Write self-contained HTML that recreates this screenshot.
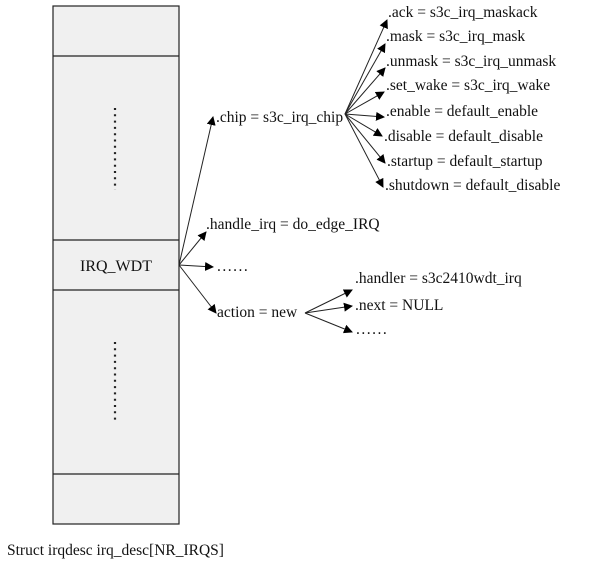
<!DOCTYPE html>
<html><head><style>body{margin:0;background:#fff}</style></head><body>
<svg width="600" height="562" xmlns="http://www.w3.org/2000/svg" font-family="Liberation Serif, serif" font-size="15.5" fill="#111">
<defs><marker id="a" markerWidth="9" markerHeight="9" refX="8" refY="4.5" orient="auto" markerUnits="userSpaceOnUse"><path d="M0,0 L9,4.5 L0,9 z" fill="#000"/></marker></defs>
<rect x="53" y="6" width="126" height="518" fill="#f0f0f0" stroke="#222" stroke-width="1.2"/>
<g stroke="#222" stroke-width="1.2"><line x1="53" y1="56" x2="179" y2="56"/><line x1="53" y1="240" x2="179" y2="240"/><line x1="53" y1="290" x2="179" y2="290"/><line x1="53" y1="474" x2="179" y2="474"/></g>
<line x1="115" y1="108" x2="115" y2="190" stroke="#222" stroke-width="2.2" stroke-dasharray="2,4.3"/>
<line x1="115" y1="342" x2="115" y2="423" stroke="#222" stroke-width="2.2" stroke-dasharray="2,4.3"/>
<text x="116" y="271" text-anchor="middle" font-size="16">IRQ_WDT</text>
<text x="7" y="555" font-size="15.5">Struct irqdesc irq_desc[NR_IRQS]</text>
<g stroke="#222" stroke-width="1" marker-end="url(#a)">
<line x1="179" y1="265" x2="213" y2="117"/><line x1="179" y1="265" x2="206" y2="232"/><line x1="179" y1="265" x2="213" y2="267"/><line x1="179" y1="265" x2="216" y2="313"/>
<line x1="345" y1="114" x2="387" y2="20"/><line x1="345" y1="114" x2="385" y2="44"/><line x1="345" y1="114" x2="385" y2="68"/><line x1="345" y1="114" x2="384" y2="92"/><line x1="345" y1="114" x2="384" y2="117"/><line x1="345" y1="114" x2="382" y2="136"/><line x1="345" y1="114" x2="385" y2="163"/><line x1="345" y1="114" x2="383" y2="187"/>
<line x1="305" y1="313" x2="352" y2="290"/><line x1="305" y1="313" x2="352" y2="306"/><line x1="305" y1="313" x2="352" y2="332"/>
</g>
<text x="216" y="122">.chip = s3c_irq_chip</text>
<text x="206" y="229">.handle_irq = do_edge_IRQ</text>
<text x="217" y="271" letter-spacing="1.5">......</text>
<text x="217" y="317">action = new</text>
<text x="388" y="17">.ack = s3c_irq_maskack</text>
<text x="386" y="41">.mask = s3c_irq_mask</text>
<text x="386" y="66">.unmask = s3c_irq_unmask</text>
<text x="386" y="90">.set_wake = s3c_irq_wake</text>
<text x="386" y="116">.enable = default_enable</text>
<text x="384" y="141">.disable = default_disable</text>
<text x="387" y="166">.startup = default_startup</text>
<text x="385" y="190">.shutdown = default_disable</text>
<text x="355" y="283">.handler = s3c2410wdt_irq</text>
<text x="355" y="310">.next = NULL</text>
<text x="356" y="334" letter-spacing="1.5">......</text>
</svg>
</body></html>
